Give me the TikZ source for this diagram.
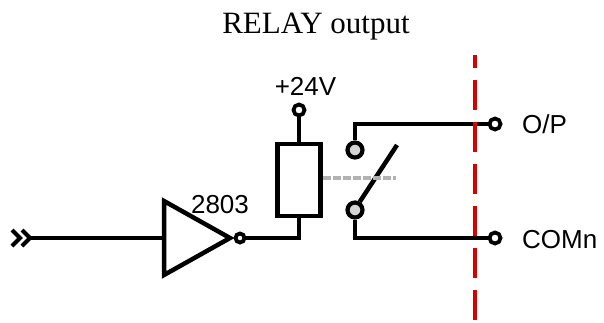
\documentclass[tikz,border=0pt]{standalone}
\usepackage{fontspec}
\setmainfont{Liberation Serif}
\newfontfamily\sansf{Liberation Sans}
\begin{document}
\begin{tikzpicture}[x=1pt,y=-1pt,
  wire/.style={line width=4.5pt, line join=miter},
  term/.style={circle, draw, line width=3.8pt, fill=white, minimum size=11pt, inner sep=0pt},
  contact/.style={circle, draw, line width=4.2pt, fill=black!17, minimum size=15pt, inner sep=0pt},
  lbl/.style={font=\sansf\fontsize{26}{30}\selectfont, inner sep=0pt},
  chev/.style={line width=4pt, line join=miter},
  redline/.style={draw=red!85!black, line width=4.5pt, dash pattern=on 30pt off 12pt, dash phase=17pt},
  linkline/.style={draw=black!30, line width=4.5pt, dash pattern=on 8pt off 2pt}]
\useasboundingbox (0,0) rectangle (604,322);
\node[font=\fontsize{31}{36}\selectfont, anchor=base, inner sep=0pt] (title) at (316,33) {RELAY output};
% input chevrons
\coordinate (in) at (30,238);
\draw[chev] (12,230) -- (20,238) -- (12,246);
\draw[chev] (22,230) -- (30,238) -- (22,246);
% inverter
\coordinate (gin) at (164,238);
\coordinate (gtip) at (230,238);
\draw[wire] (164,201) -- (gtip) -- (164,275) -- cycle;
\draw[wire] (in) -- (gin);
\node[term, minimum size=9pt] (bub) at (240,238) {};
\node[lbl, anchor=base] (chip) at (220,213) {2803};
% coil
\node[draw, line width=4.5pt, minimum width=43pt, minimum height=72pt, inner sep=0pt] (coil) at (299,180) {};
\node[term, minimum size=11pt] (v24) at (299,110) {};
\node[lbl, anchor=base] (v24lbl) at (305.5,95) {+24V};
\draw[wire] (coil.north) -- (v24.south);
\draw[wire] (coil.south) |- (bub.east);
% contacts
\node[contact] (ctop) at (355,150) {};
\node[contact] (cbot) at (355,210) {};
\node[term] (op) at (495,124) {};
\node[term] (com) at (495,238) {};
\draw[wire] (ctop.north) |- (op.west);
\draw[wire] (cbot.south) |- (com.west);
\coordinate (blade) at (397,145);
\draw[wire] (cbot.60) -- (blade);
\coordinate (linkstart) at (323,178);
\coordinate (linkend) at (396,178);
\draw[linkline] (linkstart) -- (linkend);
\node[lbl, anchor=base west] (oplbl) at (522,133) {O/P};
\node[lbl, anchor=base west] (comlbl) at (522,248) {COMn};
% boundary
\coordinate (btop) at (475,55);
\coordinate (bbot) at (475,322);
\draw[redline] (btop) -- (bbot);
\end{tikzpicture}
\end{document}
